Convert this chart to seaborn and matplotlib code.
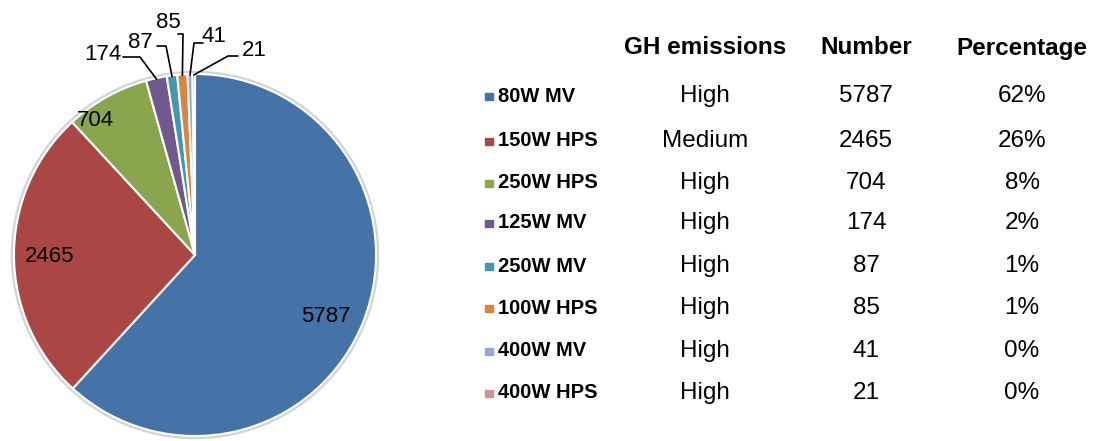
import matplotlib
matplotlib.use("Agg")
import matplotlib.pyplot as plt
import matplotlib.patches as mpatches
import numpy as np
import seaborn as sns

sns.set_theme(style="white")
plt.rcParams['font.family'] = ['Liberation Sans', 'DejaVu Sans']
plt.rcParams['text.color'] = 'black'

# data
lamps = ['80W MV', '150W HPS', '250W HPS', '125W MV', '250W MV', '100W HPS', '400W MV', '400W HPS']
emissions = ['High', 'Medium', 'High', 'High', 'High', 'High', 'High', 'High']
numbers = [5787, 2465, 704, 174, 87, 85, 41, 21]
percent_labels = ['62%', '26%', '8%', '2%', '1%', '1%', '0%', '0%']
colors = ['#4572A7', '#AA4643', '#89A54E', '#71588F', '#4198AF', '#DB843D', '#93A9CF', '#D19392']

W, H = 1093, 441
fig = plt.figure(figsize=(W / 100, H / 100), dpi=100)
ax = fig.add_axes([0, 0, 1, 1])


def Y(y):
    # pixel row (from top) -> data y
    return H - y


cx, cy, r = 195, 255, 181

# soft outer ring like the original chart
ax.add_patch(mpatches.Circle((cx, Y(cy)), r + 1.5, facecolor='none',
                             edgecolor='#d4d4d4', linewidth=2.5, zorder=1))
wedges, _ = ax.pie(numbers, colors=colors, startangle=90, counterclock=False,
                   center=(cx, Y(cy)), radius=r, frame=True,
                   wedgeprops=dict(edgecolor='white', linewidth=1.5))
ax.set_xlim(0, W)
ax.set_ylim(0, H)
ax.set_aspect('equal')
ax.axis('off')

# label placement (pixel coords, top-left origin)
label_pos = [(326, 316), (50, 257), (95, 121), (103, 54), (140, 43), (168, 22), (214, 36), (254, 50)]
# leader line start/elbow for small slices
leaders = {3: [(123, 57), (140, 57)],
           4: [(157, 46), (166, 46)],
           5: [(178, 34), (183, 34)],
           6: [(203, 43), (194, 43)],
           7: [(238, 56), (228, 56)]}

for i, (w, n) in enumerate(zip(wedges, numbers)):
    lx, ly = label_pos[i]
    ax.text(lx, Y(ly), str(n), ha='center', va='center', fontsize=16, color='black')
    if i in leaders:
        mid = np.deg2rad((w.theta1 + w.theta2) / 2)
        ax_x = cx + (r - 1) * np.cos(mid)
        ax_y = Y(cy) + (r - 1) * np.sin(mid)
        pts = leaders[i]
        xs = [pts[0][0], pts[1][0], ax_x]
        ys = [Y(pts[0][1]), Y(pts[1][1]), ax_y]
        ax.plot(xs, ys, color='black', linewidth=1.2, zorder=5)

# table on the right
head_y = 48
col_x = [705, 866, 1022]
for x, title in zip(col_x, ['GH emissions', 'Number', 'Percentage']):
    ax.text(x, Y(head_y), title, ha='center', va='center', fontsize=17.5, fontweight='bold')

row_y = [96, 141, 183, 223, 266, 308, 351, 393]
for i, lamp in enumerate(lamps):
    yy = Y(row_y[i])
    ax.add_patch(mpatches.Rectangle((485, yy - 4), 7.5, 7.5, color=colors[i], zorder=3))
    ax.text(498, yy, lamp, ha='left', va='center', fontsize=14.5, fontweight='bold')
    ax.text(col_x[0], yy, emissions[i], ha='center', va='center', fontsize=17.5)
    ax.text(col_x[1], yy, f'{numbers[i]}', ha='center', va='center', fontsize=17.5)
    ax.text(col_x[2], yy, percent_labels[i], ha='center', va='center', fontsize=17.5)

fig.savefig('out.png', dpi=100)
